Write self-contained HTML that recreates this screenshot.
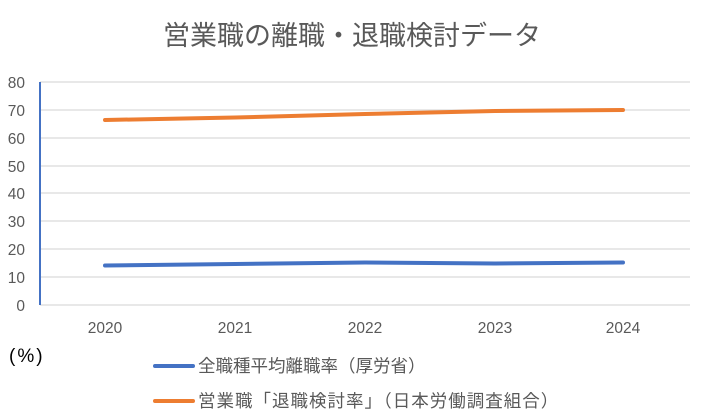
<!DOCTYPE html>
<html><head><meta charset="utf-8"><style>
body{margin:0;background:#fff;}
svg{display:block;font-family:"Liberation Sans","Noto Sans CJK JP",sans-serif;}
</style></head><body>
<svg width="704" height="417" viewBox="0 0 704 417">
<rect width="704" height="417" fill="#fff"/>
<text x="352" y="45" text-anchor="middle" font-size="27" fill="#595959">営業職の離職・退職検討データ</text>
<g stroke="#d9d9d9" stroke-width="1.3">
<line x1="40" y1="82" x2="690" y2="82"/><line x1="40" y1="110" x2="690" y2="110"/>
<line x1="40" y1="138" x2="690" y2="138"/><line x1="40" y1="166" x2="690" y2="166"/>
<line x1="40" y1="193" x2="690" y2="193"/><line x1="40" y1="221" x2="690" y2="221"/>
<line x1="40" y1="249" x2="690" y2="249"/><line x1="40" y1="277" x2="690" y2="277"/>
<line x1="40" y1="305" x2="690" y2="305"/>
</g>
<line x1="40" y1="82" x2="40" y2="305" stroke="#4472c4" stroke-width="2"/>
<g font-size="15.5" fill="#595959" text-anchor="end">
<text x="25" y="88">80</text><text x="25" y="116">70</text><text x="25" y="144">60</text>
<text x="25" y="172">50</text><text x="25" y="199">40</text><text x="25" y="227">30</text>
<text x="25" y="255">20</text><text x="25" y="283">10</text><text x="25" y="311">0</text>
</g>
<g font-size="15.5" fill="#595959" text-anchor="middle">
<text x="105" y="333">2020</text><text x="235" y="333">2021</text><text x="365" y="333">2022</text>
<text x="495" y="333">2023</text><text x="623" y="333">2024</text>
</g>
<polyline points="105,120 235,117.5 365,114 495,111 623,110" fill="none" stroke="#ed7d31" stroke-width="4" stroke-linecap="round" stroke-linejoin="round"/>
<polyline points="105,265.5 235,264 365,262.5 495,263.5 623,262.5" fill="none" stroke="#4472c4" stroke-width="4" stroke-linecap="round" stroke-linejoin="round"/>
<text x="9" y="362" font-size="19" fill="#000" letter-spacing="2">(%)</text>
<line x1="155" y1="366" x2="193" y2="366" stroke="#4472c4" stroke-width="4" stroke-linecap="round"/>
<text x="198" y="372" font-size="17.5" fill="#595959">全職種平均離職率（厚労省）</text>
<line x1="155" y1="401" x2="193" y2="401" stroke="#ed7d31" stroke-width="4" stroke-linecap="round"/>
<text x="198" y="407" font-size="17.5" fill="#595959" letter-spacing="1">営業職「退職検討率」（日本労働調査組合）</text>
</svg>
</body></html>
